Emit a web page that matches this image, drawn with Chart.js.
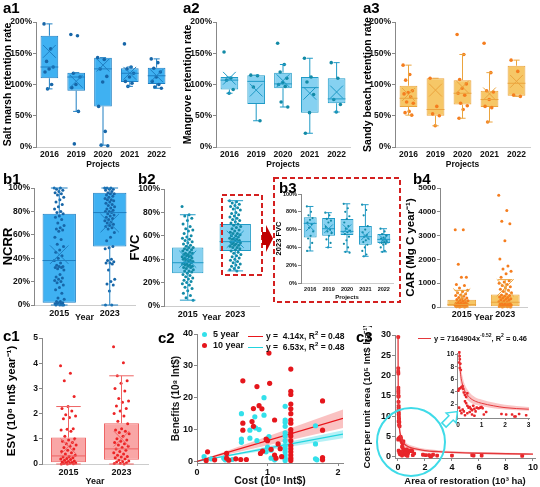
<!DOCTYPE html>
<html><head><meta charset="utf-8">
<script src="https://cdn.jsdelivr.net/npm/chart.js@4.4.1/dist/chart.umd.min.js"></script>
<style>
html,body{margin:0;padding:0;background:#fff}
body{width:540px;height:487px;position:relative;overflow:hidden;font-family:"Liberation Sans",Arial,sans-serif}
canvas{position:absolute}
.pl{position:absolute;font-weight:bold;font-size:15px;line-height:15px;color:#000}
.lg{position:absolute;font-weight:bold;color:#111;white-space:nowrap;line-height:1}
.dot{display:inline-block;width:5px;height:5px;border-radius:50%;margin-right:6px;vertical-align:middle}
.ln{display:inline-block;width:15px;height:1.5px;margin-right:3px;vertical-align:middle}
svg{position:absolute;left:0;top:0}
</style></head><body>
<script>
// ---------------- DATA ----------------
const projYears = ['2016','2019','2020','2021','2022'];
const twoYears = ['2015','2023'];
// box rows: [lower whisker, Q1, median, Q3, upper whisker, mean]
const a1Box = [[93,110,128,178,197,153],[57,90,112,119,119,105],[3,65,125,143,143,131],[97,104,118,126,128,118],[94,101,114,127,141,114]];
const a1Pts = [[197,157,137,128,125,120,100,93],[180,178,118,112,100,95,57,5],[143,140,125,113,104,65,25,3,2],[165,128,125,118,112,105,102,97],[141,135,126,120,112,105,100,96,94]];
const a2Box = [[86,92,107,112,112,110],[42,69,105,115,115,91],[64,94,101,119,132,106],[22,55,95,112,142,86],[56,70,77,110,135,88]];
const a2Pts = [[152,110,107,92,86],[115,114,96,42],[166,132,120,110,103,100,97,72,64],[142,112,104,84,55,22],[135,110,76,68,56]];
const a3Box = [[51,64,78,98,131,84],[34,50,60,110,110,91],[46,68,86,107,148,96],[40,64,76,90,119,85],[81,82,102,130,139,105]];
const a3Pts = [[131,116,107,90,87,85,80,72,70,57,55,51],[110,65,53,50,34],[180,148,108,101,94,86,83,70,66,60,46],[166,119,90,88,76,65,63,40],[139,121,83,81]];

const b1Box = [[0,2,38,78,100,43],[0,50,79,96,100,70]];
const b1Pts2015 = [100,100,99,98,97,96,95,94,92,90,88,86,84,82,80,79,78,76,75,73,70,68,66,65,64,63,58,56,52,50,47,45,42,40,38,36,34,33,33,32,32,31,30,26,24,23,22,21,20,19,17,15,13,10,6,5,3,3,2,2,1,1,1,0,0,0,0];
const b1Pts2023 = [100,100,100,99,99,98,97,96,95,95,94,93,92,91,90,90,89,88,87,86,85,84,83,82,81,80,80,79,78,77,76,75,74,73,72,71,70,69,68,67,66,65,62,58,55,50,49,48,39,38,37,36,36,35,30,22,20,18,17,12,0,0];

const b2Box = [[5,28,37,50,78,40],[30,47,55,70,90,57]];
const b2Pts2015 = [85,78,77,75,73,70,68,66,65,64,62,60,59,58,57,56,55,54,53,52,51,50,50,49,48,48,47,46,45,45,44,44,43,43,42,42,41,41,40,40,39,39,38,38,37,37,36,36,35,35,34,34,33,33,32,31,30,30,29,28,27,26,25,24,23,22,21,20,19,18,16,15,13,11,9,7,5];
const b2Pts2023 = [90,89,88,87,86,85,84,83,82,80,79,78,77,76,75,74,73,72,71,70,69,68,67,66,65,64,63,62,62,61,60,60,59,58,58,57,57,56,56,55,55,54,54,53,53,52,52,51,50,50,49,48,47,46,45,44,43,42,41,40,39,38,37,36,35,34,33,32,31,30];

const b3Box = [[36,51,67,74,86,63],[40,53,61,73,79,61],[35,54,58,72,89,61],[30,43,52,64,88,53],[35,45,49,55,61,49]];
const b3Pts = [[86,80,76,73,71,68,66,62,58,53,50,45,40,36],[79,76,72,70,68,63,60,58,56,53,49,45,40],[89,84,80,75,72,68,64,61,59,57,55,52,48,44,40,35,34],[88,82,76,64,60,57,54,52,50,48,46,43,40,36,32,30],[61,58,55,53,51,50,49,48,47,46,45,44,43,40,36,35]];

const b4Box = [[0,30,100,300,700,420],[0,30,200,530,1150,810]];
const b4Pts2015 = [3250,3250,1800,1250,1250,950,900,800,700,650,600,550,500,480,450,400,380,350,320,300,280,260,240,220,200,180,160,150,140,120,100,90,80,70,60,50,40,30,20,10,5,0];
const b4Pts2023 = [4700,4050,3600,3500,2780,2020,1720,1600,1500,1400,1250,1100,1050,1000,950,900,850,800,750,700,650,600,550,500,480,450,420,400,380,350,330,300,280,250,220,200,180,160,140,120,100,90,80,60,50,40,30,20,10,5,0];

const c1Box = [[0,0.07,0.32,1.05,2.28,0.7],[0,0.17,0.6,1.62,3.5,1.0]];
const c1Pts2015 = [3.9,3.6,3.3,2.68,2.28,2.2,2.1,1.95,1.9,1.85,1.8,1.4,1.38,1.35,1.3,1.1,1.0,0.95,0.9,0.85,0.8,0.75,0.7,0.65,0.6,0.55,0.5,0.45,0.4,0.35,0.3,0.28,0.25,0.22,0.2,0.18,0.15,0.12,0.1,0.08,0.06,0.05,0.04,0.03,0.02,0.01,0,0];
const c1Pts2023 = [4.65,4.02,3.5,3.3,3.2,3.0,2.9,2.6,2.5,2.45,2.3,2.2,2.1,2.0,1.9,1.7,1.6,1.4,1.35,1.3,1.25,1.2,1.1,1.0,0.95,0.9,0.85,0.8,0.75,0.7,0.65,0.6,0.55,0.5,0.45,0.4,0.35,0.3,0.28,0.25,0.2,0.15,0.12,0.1,0.08,0.05,0.03,0.02,0];

// c2: cost (x) vs benefits (y)
const c2Cost5 = [0.1,0.2,0.38,0.4,0.5,0.63,0.63,0.63,0.75,0.75,0.82,0.83,0.88,0.85,0.95,0.95,0.98,1.02,1.0,1.05,1.05,1.1,1.25,1.25,1.25,1.25,1.25,1.25,1.25,1.25,1.25,1.25,1.25,1.25,1.25,1.68,1.68,1.68,1.7];
const c2Ben5  = [1.5,0.8,1,0.5,0.6,15,7,6,9.8,7.3,14,10.5,10,6.5,20,14.5,3,7.8,4.5,1,3.5,0.5,17.3,13,12.3,11,9,8,6.5,5,4,3,2,1,0.3,11.2,5.5,0.8,0.5];
const c2Cost10 = [0.15,0.13,0.25,0.42,0.42,0.45,0.55,0.62,0.65,0.65,0.65,0.7,0.8,0.78,0.8,0.85,0.88,0.92,0.9,0.93,0.98,1.0,1.02,1.03,1.05,1.1,1.1,1.12,1.15,1.18,1.2,1.33,1.33,1.33,1.33,1.33,1.33,1.33,1.33,1.33,1.33,1.33,1.33,1.33,1.33,1.33,1.33,1.33,1.33,1.78,1.78,1.78,1.78];
const c2Ben10  = [3,0.3,0.5,2.5,1,0.4,0.8,0.6,25.3,12,9.8,0.6,16.6,12.5,11,23.5,17.5,16.5,2.5,3.2,7,6.5,34,24.5,3.8,13,2,1,5.5,4,1.5,29,22,21,18,16.5,15,13,12,10,9,8,6.5,5,4,3,2,1,0.3,19,9.8,1.2,0.5];
const c2FitX = [0,2.07];
const c2RedFit = [0,13.5], c2RedLo = [0,10.5], c2RedHi = [0,16.3];
const c2CyanFit = [0,8.6], c2CyanLo = [0,7.3], c2CyanHi = [0,9.8];

// c3: area of restoration (x, 10^3 ha) vs cost per unit area (y, 10^5 Int$/ha)
const c3Area = [0.02,0.02,0.02,0.03,0.03,0.03,0.03,0.04,0.04,0.04,0.05,0.05,0.05,0.06,0.06,0.07,0.08,0.05,0.1,0.08,0.12,0.05,0.1,0.02,0.15,0.2,0.22,0.25,0.3,0.35,0.4,0.3,0.35,0.4,0.45,0.5,0.55,0.6,0.65,0.7,0.75,0.8,0.85,0.9,0.95,1.0,1.05,0.2,0.15,0.1,0.05,0.3,0.4,0.5,0.6,0.7,0.25,1.2,1.1,1.85,2.05,2.3,2.4,2.45,2.6,2.9,4.0,5.5,5.6,6.2,9.2];
const c3Cost = [29.5,21.8,21,20.5,17,16.3,15.8,15,14.8,13.5,12.5,12,11.5,10.8,10.3,9.7,9.2,8.7,8.5,7.8,7.5,4.5,4.6,4.2,4.8,4.9,4.5,3.9,3.5,3.2,3.8,2.5,2.2,1.8,1.5,1.6,1.3,1.1,1.8,1.3,0.9,1.5,1.4,1.4,1.5,1.6,1.4,1.2,0.6,1.0,1.5,0.3,0.6,0.8,0.4,0.2,0.9,0.8,0.4,0.5,0.4,0.4,0.1,0.1,0.5,0.3,0.3,0.4,0.3,0.3,0.2];
const c3FitX = [0.005,0.01,0.02,0.03,0.05,0.1,0.2,0.3,0.5,0.75,1,1.5,2,3,4,5,6,8,10];
const c3Fit  = [35,24,17,13.6,10.4,7.3,5.1,4.1,3.1,2.5,2.2,1.8,1.5,1.25,1.07,0.95,0.87,0.75,0.66];
const c3Hi   = [44,30,21,17,13,9.2,6.4,5.1,3.9,3.1,2.8,2.3,1.95,1.6,1.4,1.25,1.15,1.0,0.9];
const c3Lo   = [27,19,13,10.5,8,5.6,3.9,3.2,2.4,1.95,1.75,1.4,1.2,1.0,0.85,0.75,0.68,0.58,0.5];

// ---------------- RENDERING ----------------
Chart.defaults.font.family = '"Liberation Sans", Arial, sans-serif';
Chart.defaults.font.weight = 'bold';
Chart.defaults.color = '#111';

const jit = j => (((j * 0.6180339887) % 1) - 0.5) * 2;
function mk(r){ const c=document.createElement('canvas'); c.width=r[2]; c.height=r[3]; c.style.left=r[0]+'px'; c.style.top=r[1]+'px'; document.body.appendChild(c); return c; }
function frame(cv,pl){ return {yw:pl[0]-cv[0], pt:pl[1]-cv[1], pr:cv[0]+cv[2]-pl[2], xh:cv[1]+cv[3]-pl[3]}; }
const pct = v => v + '%';

function whisk(s){
  return { id:'whisk', afterDatasetsDraw(chart){
    const ctx=chart.ctx, y=chart.scales.y, xs=chart.scales.xs, bars=chart.getDatasetMeta(0).data;
    ctx.save(); ctx.strokeStyle=s.line; ctx.lineWidth=1;
    s.box.forEach((b,i)=>{
      const cx=xs.getPixelForValue(i), w=bars[i].width, cw=w*s.cap/2, p=v=>y.getPixelForValue(v);
      ctx.beginPath();
      ctx.moveTo(cx,p(b[3])); ctx.lineTo(cx,p(b[4]));
      ctx.moveTo(cx,p(b[1])); ctx.lineTo(cx,p(b[0]));
      ctx.moveTo(cx-cw,p(b[4])); ctx.lineTo(cx+cw,p(b[4]));
      ctx.moveTo(cx-cw,p(b[0])); ctx.lineTo(cx+cw,p(b[0]));
      ctx.moveTo(cx-w/2,p(b[2])); ctx.lineTo(cx+w/2,p(b[2]));
      ctx.stroke();
    });
    ctx.restore();
  }};
}

function boxChart(cv, pl, s){
  const f = frame(cv,pl), c = mk(cv), n = s.labels.length, pts = [];
  s.pts.forEach((arr,i)=>arr.forEach((v,j)=>pts.push({x:i+jit(j)*s.jw, y:v})));
  new Chart(c,{
    type:'bar',
    data:{labels:s.labels, datasets:[
      {data:s.box.map(b=>[b[1],b[3]]), backgroundColor:s.fill, borderColor:s.line, borderWidth:1, borderSkipped:false, grouped:false, barPercentage:s.bw, categoryPercentage:1, order:3, xAxisID:'x', yAxisID:'y'},
      {type:'scatter', data:pts, xAxisID:'xs', yAxisID:'y', pointRadius:s.pr, backgroundColor:s.pt, borderWidth:0, order:2, clip:false},
      {type:'scatter', data:s.box.map((b,i)=>({x:i,y:b[5]})), xAxisID:'xs', yAxisID:'y', pointStyle:'crossRot', pointRadius:s.mr, borderColor:s.line, borderWidth:1, backgroundColor:'rgba(0,0,0,0)', order:1, clip:false}
    ]},
    options:{responsive:false, animation:false, events:[],
      layout:{padding:{top:f.pt,right:f.pr,left:0,bottom:0}},
      plugins:{legend:{display:false},tooltip:{enabled:false}},
      scales:{
        x:{type:'category', offset:true, grid:{display:false, drawTicks:false}, border:{display:true,color:'#ccc'},
           ticks:{font:{size:s.xf,weight:'bold'}, padding:s.xtp, maxRotation:0, autoSkip:false, color:'#111'},
           title:{display:true,text:s.xt,font:{size:s.xtf,weight:'bold'},padding:0,color:'#111'},
           afterFit:sc=>{sc.height=f.xh;}},
        xs:{type:'linear', display:false, offset:false, grid:{offset:false}, min:-0.5, max:n-0.5},
        y:{min:s.ymin, max:s.ymax,
           ticks:{stepSize:s.step, callback:s.fmt, font:{size:s.yf,weight:'bold'}, padding:1, color:'#111'},
           grid:{drawOnChartArea:false, tickLength:3, color:'#888'}, border:{color:'#888'},
           title:{display:true,text:s.yt,font:{size:s.ytf,weight:'bold'},padding:{top:s.ytp,bottom:0},color:'#000'},
           afterFit:sc=>{sc.width=f.yw;}}
      }},
    plugins:[whisk(s)]
  });
}

const blueA = {fill:'#3fb1f2', line:'#1f7fc2', pt:'#1766a8'};
const tealA = {fill:'#86d1f1', line:'#1f9ac6', pt:'#128aa6'};
const orA   = {fill:'#f6c767', line:'#eba43e', pt:'#f57d1e'};
const redA  = {fill:'rgba(248,150,150,0.85)', line:'#ee6464', pt:'#ec2426'};

const aCommon = {labels:projYears, ymin:0, ymax:200, step:50, fmt:pct, xf:8.5, xtp:3, xt:'Projects', xtf:8.5, yf:8.5, ytf:10.5, ytp:2, bw:0.66, cap:0.35, jw:0.2, pr:1.8, mr:9};
boxChart([0,8,180,162],[36,22,176,147], Object.assign({}, aCommon, blueA, {box:a1Box, pts:a1Pts, yt:'Salt marsh retention rate'}));
boxChart([180,8,180,162],[216,22,356,147], Object.assign({}, aCommon, tealA, {box:a2Box, pts:a2Pts, yt:'Mangrove retention rate'}));
boxChart([360,8,180,162],[395,22,536,147], Object.assign({}, aCommon, orA, {box:a3Box, pts:a3Pts, yt:'Sandy beach retention rate'}));

boxChart([0,172,160,151],[34,188,135,305], Object.assign({}, blueA, {labels:twoYears, box:b1Box, pts:[b1Pts2015,b1Pts2023], ymin:0, ymax:100, step:20, fmt:pct, xf:9, xtp:3, xt:'Year', xtf:9, yf:8.5, ytf:13, ytp:1, yt:'NCRR', bw:0.66, cap:0.5, jw:0.1, pr:1.5, mr:13}));
boxChart([127,172,145,151],[164,189,268,306], Object.assign({}, tealA, {labels:twoYears, box:b2Box, pts:[b2Pts2015,b2Pts2023], ymin:0, ymax:100, step:20, fmt:pct, xf:9, xtp:3, xt:'Year', xtf:9, yf:8.5, ytf:13, ytp:1, yt:'FVC', bw:0.66, cap:0.5, jw:0.12, pr:1.5, mr:12}));
boxChart([274,180,126,121],[301,194,393,283], Object.assign({}, tealA, {labels:projYears, box:b3Box, pts:b3Pts, ymin:0, ymax:100, step:20, fmt:pct, xf:5.5, xtp:3, xt:'Projects', xtf:6, yf:5.5, ytf:7.5, ytp:0, yt:'2023 FVC', bw:0.7, cap:0.5, jw:0.18, pr:1.1, mr:6}));
boxChart([404,172,136,151],[440,188,539,307], Object.assign({}, orA, {labels:twoYears, box:b4Box, pts:[b4Pts2015,b4Pts2023], ymin:0, ymax:5000, step:1000, fmt:v=>v, xf:9, xtp:2, xt:'Year', xtf:9, yf:8, ytf:11.5, ytp:0, yt:'CAR (Mg C year\u207B\u00B9)', bw:0.66, cap:0.5, jw:0.15, pr:1.5, mr:12}));
boxChart([0,326,160,161],[42,338,152,464], Object.assign({}, redA, {labels:twoYears, box:c1Box, pts:[c1Pts2015,c1Pts2023], ymin:0, ymax:5, step:1, fmt:v=>v, xf:9, xtp:3, xt:'Year', xtf:9, yf:8.5, ytf:11.5, ytp:5, yt:'ESV (10\u2078 Int$ year\u207B\u00B9)', bw:0.66, cap:0.7, jw:0.15, pr:1.5, mr:11}));

// ---- c2 scatter with fits ----
(function(){
  const cv=[160,326,190,161], pl=[197,334,343,463], f=frame(cv,pl), c=mk(cv);
  const xy = (xs,ys)=>xs.map((x,i)=>({x, y:ys[i]}));
  new Chart(c,{type:'scatter', data:{datasets:[
      {type:'line', data:xy(c2FitX,c2RedHi), borderWidth:0, pointRadius:0, fill:'+1', backgroundColor:'rgba(245,120,120,0.45)', order:6},
      {type:'line', data:xy(c2FitX,c2RedLo), borderWidth:0, pointRadius:0, fill:false, order:6},
      {type:'line', data:xy(c2FitX,c2CyanHi), borderWidth:0, pointRadius:0, fill:'+1', backgroundColor:'rgba(90,225,235,0.45)', order:5},
      {type:'line', data:xy(c2FitX,c2CyanLo), borderWidth:0, pointRadius:0, fill:false, order:5},
      {type:'line', data:xy(c2FitX,c2RedFit), borderColor:'#e8161b', borderWidth:1.2, pointRadius:0, fill:false, order:4},
      {type:'line', data:xy(c2FitX,c2CyanFit), borderColor:'#22d4de', borderWidth:1.2, pointRadius:0, fill:false, order:4},
      {data:xy(c2Cost5,c2Ben5), backgroundColor:'#33e0ea', pointRadius:2.6, borderWidth:0, order:2, clip:false},
      {data:xy(c2Cost10,c2Ben10), backgroundColor:'#e5161c', pointRadius:2.6, borderWidth:0, order:1, clip:false}
    ]},
    options:{responsive:false, animation:false, events:[],
      layout:{padding:{top:f.pt,right:f.pr,left:0,bottom:0}},
      plugins:{legend:{display:false},tooltip:{enabled:false}},
      scales:{
        x:{type:'linear', min:0, max:2.07, afterBuildTicks:sc=>{sc.ticks=[0,1,2].map(v=>({value:v}));},
           grid:{drawOnChartArea:false, tickLength:3, color:'#888'}, border:{color:'#888'},
           ticks:{font:{size:9,weight:'bold'}, padding:1, color:'#111'},
           title:{display:true, text:'Cost (10\u2078 Int$)', font:{size:10.5,weight:'bold'}, padding:0, color:'#111'},
           afterFit:sc=>{sc.height=f.xh;}},
        y:{min:-0.5, max:40, afterBuildTicks:sc=>{sc.ticks=[0,10,20,30,40].map(v=>({value:v}));},
           grid:{drawOnChartArea:false, tickLength:3, color:'#888'}, border:{color:'#888'},
           ticks:{font:{size:9,weight:'bold'}, padding:1, color:'#111'},
           title:{display:true, text:'Benefits (10\u2078 Int$)', font:{size:10,weight:'bold'}, padding:{top:10,bottom:0}, color:'#111'},
           afterFit:sc=>{sc.width=f.yw;}}
      }}});
})();

// ---- c3 power fit + inset ----
function c3Chart(cv, pl, xr, yr, xt, yt, s){
  const f=frame(cv,pl), c=mk(cv);
  const xy = (xs,ys)=>xs.map((x,i)=>({x, y:ys[i]}));
  const keep = p => p.x<=xr[1]+0.01 && p.y<=yr[1]+0.2;
  new Chart(c,{type:'scatter', data:{datasets:[
      {type:'line', data:xy(c3FitX,c3Hi), borderWidth:0, pointRadius:0, fill:'+1', backgroundColor:'rgba(245,130,130,0.45)', cubicInterpolationMode:'monotone', order:5},
      {type:'line', data:xy(c3FitX,c3Lo), borderWidth:0, pointRadius:0, fill:false, cubicInterpolationMode:'monotone', order:5},
      {data:xy(c3Area,c3Cost).filter(keep), backgroundColor:'#e8262a', pointRadius:s.pr, pointStyle:'rectRounded', borderWidth:0, order:3, clip:false},
      {type:'line', data:xy(c3FitX,c3Fit), borderColor:'#e4383b', borderWidth:s.lw, pointRadius:0, fill:false, cubicInterpolationMode:'monotone', order:2}
    ]},
    options:{responsive:false, animation:false, events:[],
      layout:{padding:{top:f.pt,right:f.pr,left:0,bottom:0}},
      plugins:{legend:{display:false},tooltip:{enabled:false}},
      scales:{
        x:{type:'linear', min:xr[0], max:xr[1], afterBuildTicks:sc=>{sc.ticks=xt.map(v=>({value:v}));},
           grid:{drawOnChartArea:false, tickLength:s.tl, color:'#888'}, border:{color:'#888'},
           ticks:{font:{size:s.tf,weight:'bold'}, padding:1, color:'#111'},
           title:{display:!!s.xtitle, text:s.xtitle, font:{size:9.5,weight:'bold'}, padding:0, color:'#111'},
           afterFit:sc=>{sc.height=f.xh;}},
        y:{min:yr[0], max:yr[1], afterBuildTicks:sc=>{sc.ticks=yt.map(v=>({value:v}));},
           grid:{drawOnChartArea:false, tickLength:s.tl, color:'#888'}, border:{color:'#888'},
           ticks:{font:{size:s.tf,weight:'bold'}, padding:1, color:'#111'},
           title:{display:!!s.ytitle, text:s.ytitle, font:{size:9.5,weight:'bold'}, padding:{top:7,bottom:0}, color:'#111'},
           afterFit:sc=>{sc.width=f.yw;}}
      }}});
}
c3Chart([355,326,185,161],[395,335,535,458],[-0.22,10.15],[-0.3,30],[0,2,4,6,8,10],[0,5,10,15,20,25,30],
  {pr:2.2, lw:1.3, tl:3, tf:9, xtitle:'Area of restoration (10\u00B3 ha)', ytitle:'Cost per unit area (10\u2075 Int$ ha\u207B\u00B9)'});
c3Chart([440,345,95,85],[457,353,529,418],[-0.04,3.02],[-0.15,10.2],[0,1,2,3],[0,2,4,6,8,10],
  {pr:1.5, lw:1, tl:2, tf:6.5});
</script>

<svg width="540" height="487" viewBox="0 0 540 487">
  <rect x="222" y="195" width="40" height="80" fill="none" stroke="#d42020" stroke-width="2" stroke-dasharray="5,3"/>
  <polygon points="262,232 266,232 266,225 273,238.5 266,252 266,245 262,245" fill="#c00000"/>
  <rect x="274" y="178" width="126" height="124" fill="none" stroke="#d42020" stroke-width="2" stroke-dasharray="5,3"/>
  <ellipse cx="411" cy="442" rx="34" ry="34" fill="none" stroke="#3fdbe8" stroke-width="2"/>
  <g transform="translate(444,425) rotate(-45)">
    <polygon points="0,-3 10,-3 10,-7 19,0 10,7 10,3 0,3" fill="#fff" stroke="#3fdbe8" stroke-width="1.5"/>
  </g>
</svg>

<div class="pl" style="left:3px;top:0px">a1</div>
<div class="pl" style="left:183px;top:0px">a2</div>
<div class="pl" style="left:363px;top:0px">a3</div>
<div class="pl" style="left:3px;top:171px">b1</div>
<div class="pl" style="left:138px;top:171px">b2</div>
<div class="pl" style="left:279px;top:180px">b3</div>
<div class="pl" style="left:413px;top:171px">b4</div>
<div class="pl" style="left:3px;top:328px">c1</div>
<div class="pl" style="left:158px;top:330px">c2</div>
<div class="pl" style="left:356px;top:329px">c3</div>

<div class="lg" style="left:202px;top:330px;font-size:9px"><span class="dot" style="background:#33e0ea"></span>5 year</div>
<div class="lg" style="left:202px;top:341px;font-size:9px"><span class="dot" style="background:#e5161c"></span>10 year</div>
<div class="lg" style="left:248px;top:330px;font-size:8.5px"><span class="ln" style="background:#e8161b"></span>y =&nbsp; 4.14x, R<sup style="font-size:6px">2</sup> = 0.48</div>
<div class="lg" style="left:248px;top:341px;font-size:8.5px"><span class="ln" style="background:#22d4de"></span>y =&nbsp; 6.53x, R<sup style="font-size:6px">2</sup> = 0.48</div>
<div class="lg" style="left:418px;top:333px;font-size:7.5px"><span class="ln" style="background:#e4383b;width:13px"></span>y = 7164904x<sup style="font-size:5px">-0.52</sup>, R<sup style="font-size:5px">2</sup> = 0.46</div>
</body></html>
